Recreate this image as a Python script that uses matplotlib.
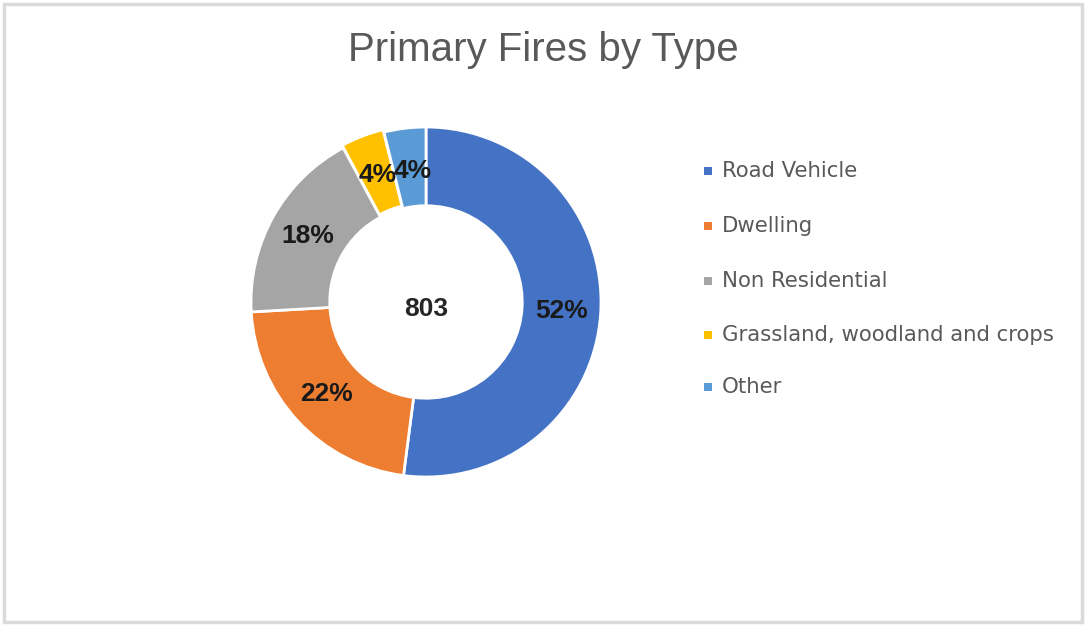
import matplotlib
matplotlib.use("Agg")
import matplotlib.pyplot as plt
from matplotlib.patches import Rectangle
import numpy as np

categories = ["Road Vehicle", "Dwelling", "Non Residential",
              "Grassland, woodland and crops", "Other"]
counts = [418, 177, 145, 32, 31]
pct_labels = ["52%", "22%", "18%", "4%", "4%"]
total_label = "803"
title = "Primary Fires by Type"
colors = ["#4472C4", "#ED7D31", "#A5A5A5", "#FFC000", "#5B9BD5"]

W, H = 1086, 626
fig = plt.figure(figsize=(W / 100, H / 100), dpi=100)
fig.patch.set_facecolor("white")

# outer light-gray frame
fig.add_artist(Rectangle((4 / W, 4 / H), (W - 8) / W, (H - 8) / H,
                         transform=fig.transFigure, fill=False,
                         edgecolor="#DADADA", linewidth=2.5))

# pie axes: center (426, 302) px, radius 175 px
cx, cy, r = 426, 302, 175
lim = 1.05
box = r * lim
ax = fig.add_axes([(cx - box) / W, (H - cy - box) / H, 2 * box / W, 2 * box / H])
wedges, _ = ax.pie(counts, colors=colors, startangle=90, counterclock=False,
                   radius=1.0, explode=[0, 0, 0, 0.015, 0],
                   wedgeprops=dict(width=0.45, edgecolor="white", linewidth=2))
ax.set_xlim(-lim, lim)
ax.set_ylim(-lim, lim)
ax.set_aspect("equal", adjustable="box")
ax.axis("off")

# percentage labels at mid-ring
cum = np.cumsum([0] + counts)
tot = sum(counts)
offsets = [(0, 0), (0, 0), (0, 0), (0.0, 0.0), (0.02, -0.02)]
for i, lab in enumerate(pct_labels):
    mid = (cum[i] + cum[i + 1]) / 2 / tot
    ang = np.deg2rad(90 - 360 * mid)
    x = 0.775 * np.cos(ang) + offsets[i][0]
    y = 0.775 * np.sin(ang) + offsets[i][1]
    ax.text(x, y, lab, ha="center", va="center", fontsize=19,
            fontweight="bold", color="#1a1a1a", family="Liberation Sans")

ax.text(0, -0.04, total_label, ha="center", va="center", fontsize=19,
        fontweight="bold", color="#262626", family="Liberation Sans")

fig.text(543 / W, 1 - 50 / H, title, ha="center", va="center",
         fontsize=29, color="#595959", family="Liberation Sans")

# legend
leg_y = [171, 226, 281, 335, 387]
for lab, col, y in zip(categories, colors, leg_y):
    fig.add_artist(Rectangle((704 / W, 1 - (y + 4) / H), 8 / W, 8 / H,
                             transform=fig.transFigure, facecolor=col,
                             edgecolor="none"))
    fig.text(722 / W, 1 - y / H, lab, ha="left", va="center",
             fontsize=15.3, color="#595959", family="DejaVu Sans")

fig.savefig("out.png", dpi=100, facecolor="white")
